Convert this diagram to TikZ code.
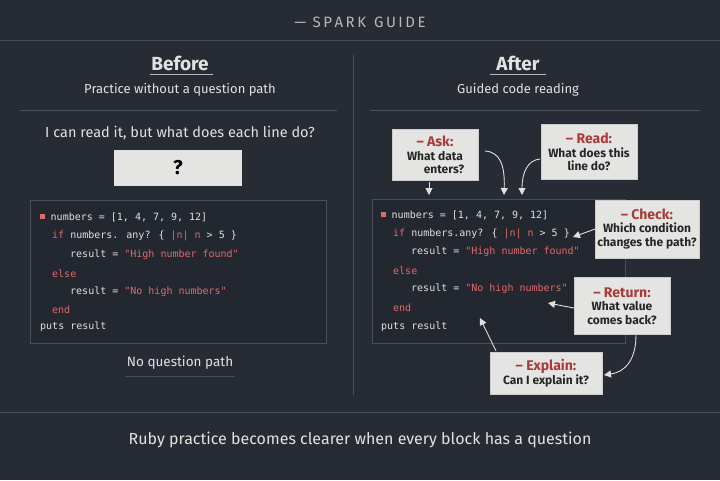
\documentclass[tikz,border=0pt]{standalone}
\usepackage{fontspec}
\setmainfont{Fira Sans}
\newfontfamily\codefont{DejaVu Sans Mono}
\usetikzlibrary{arrows.meta}
\definecolor{bg}{HTML}{272B34}
\definecolor{fg}{HTML}{E2E2E0}
\definecolor{dim}{HTML}{B8B8B8}
\definecolor{rule}{HTML}{4A4E58}
\definecolor{kw}{HTML}{E06A6A}
\definecolor{lab}{HTML}{A83A3A}
\definecolor{card}{HTML}{E4E4E2}
\tikzset{x=1pt,y=-1pt,
 txt/.style={text=fg,font=\fontsize{12}{14}\selectfont},
 codebox/.style={draw=rule,fill=bg!90!black},
 cl/.style={anchor=west,text=fg,font=\codefont\fontsize{10}{12}\selectfont,inner sep=0},
 cardbox/.style={draw=white!60!gray,fill=card,align=center,text=black!85,font=\bfseries\fontsize{12}{13.5}\selectfont,inner sep=2pt},
 arr/.style={draw=white!75!gray,line width=0.9pt,-{Triangle[length=7pt,width=7pt]}},
 rl/.style={draw=rule,line width=0.7pt}}
\newcommand{\kr}[1]{\textcolor{kw}{#1}}
\newcommand{\mk}{\textcolor{kw}{\rule[0.15em]{0.45em}{0.45em}}}
\newcommand{\lb}[1]{{\color{lab}\fontsize{14}{15}\selectfont – #1:}}
\begin{document}
\begin{tikzpicture}
\fill[bg] (0,0) rectangle (720,480);
\useasboundingbox (0,0) rectangle (720,480);
\node[text=dim,font=\fontsize{15}{17}\selectfont] (title) at (360,22) {— \,S\,P\,A\,R\,K\ \ G\,U\,I\,D\,E};
\draw[rl] (0,40) -- (720,40);
\draw[rl] (353,55) -- (353,395);
% Before
\node[txt,font=\bfseries\fontsize{19}{21}\selectfont] (bef) at (180,63) {Before};
\draw[dim,line width=0.6pt] (150,74) -- (213,74);
\node[txt,font=\fontsize{13}{15}\selectfont] (bsub) at (180,90) {Practice without a question path};
\draw[rl] (20,110) -- (337,110);
\node[txt,font=\fontsize{14.5}{16}\selectfont] (bq) at (180,133) {I can read it, but what does each line do?};
\node[fill=card,minimum width=128pt,minimum height=36pt,font=\bfseries\fontsize{20}{22}\selectfont,text=black] (qm) at (178,168) {?};
\draw[codebox] (30,200) rectangle (326,343);
\node[cl] (b1) at (40,217) {\mk\ numbers = [1, 4, 7, 9, 12]};
\node[cl] (b2) at (52,236) {\kr{if} numbers. any? \{ \kr{|n|} \kr{n} > 5 \}};
\node[cl] (b3) at (70,255) {result = \kr{"High number found"}};
\node[cl] (b4) at (52,274) {\kr{else}};
\node[cl] (b5) at (70,292) {result = \kr{"No high numbers"}};
\node[cl] (b6) at (52,310) {\kr{end}};
\node[cl] (b7) at (40,327) {puts result};
\node[txt,font=\fontsize{13.5}{15}\selectfont] (nq) at (180,363) {No question path};
\draw[rule,line width=0.6pt] (125,376) -- (235,376);
% After
\node[txt,font=\bfseries\fontsize{19}{21}\selectfont] (aft) at (518,63) {After};
\draw[dim,line width=0.6pt] (490,74) -- (546,74);
\node[txt,font=\fontsize{13}{15}\selectfont] (asub) at (518,90) {Guided code reading};
\draw[rl] (370,110) -- (700,110);
\draw[codebox] (372,199) rectangle (625,343);
\node[cl] (a1) at (381,215) {\mk\ numbers = [1, 4, 7, 9, 12]};
\node[cl] (a2) at (393,234) {\kr{if} numbers.any? \{ \kr{|n|} \kr{n} > 5 \}};
\node[cl] (a3) at (411,252) {result = \kr{"High number found"}};
\node[cl] (a4) at (393,271) {\kr{else}};
\node[cl] (a5) at (411,289) {result = \kr{"No high numbers"}};
\node[cl] (a6) at (393,308) {\kr{end}};
\node[cl] (a7) at (381,327) {puts result};
\node[cardbox,minimum width=86pt,minimum height=51pt] (ask) at (435,155) {\lb{Ask}\\What data\\\hspace*{1.5em}enters?};
\node[cardbox,minimum width=96pt,minimum height=55pt] (read) at (589,152) {\lb{Read}\\What does this\\line do?};
\node[cardbox,minimum width=100pt,minimum height=58pt] (check) at (647,229) {\lb{Check}\\Which condition\\changes the path?};
\node[cardbox,minimum width=96pt,minimum height=57pt] (ret) at (622,306) {\lb{Return}\\What value\\comes back?};
\node[cardbox,minimum width=112pt,minimum height=42pt] (exp) at (546,373) {\lb{Explain}\\Can I explain it?};
\coordinate (t1) at (429,195);
\coordinate (t2) at (504,195);
\coordinate (t3) at (522,195);
\coordinate (t4) at (573,237);
\coordinate (t5) at (548,303);
\coordinate (t6) at (480,318);
\draw[arr] (429,182) -- (t1);
\draw[arr] (485,151) .. controls (500,152) and (505,165) .. (t2);
\draw[arr] (540,159) .. controls (528,160) and (522,172) .. (t3);
\draw[arr] (check.west) -- (t4);
\draw[arr] (ret.west|-0,308) -- (t5);
\draw[arr] (496,351) -- (t6);
\draw[arr] (636,335) .. controls (636,360) and (625,372) .. (604,375);
\draw[rl] (0,412) -- (720,412);
\node[txt,font=\fontsize{16}{18}\selectfont] (foot) at (360,440) {Ruby practice becomes clearer when every block has a question};
\end{tikzpicture}
\end{document}
